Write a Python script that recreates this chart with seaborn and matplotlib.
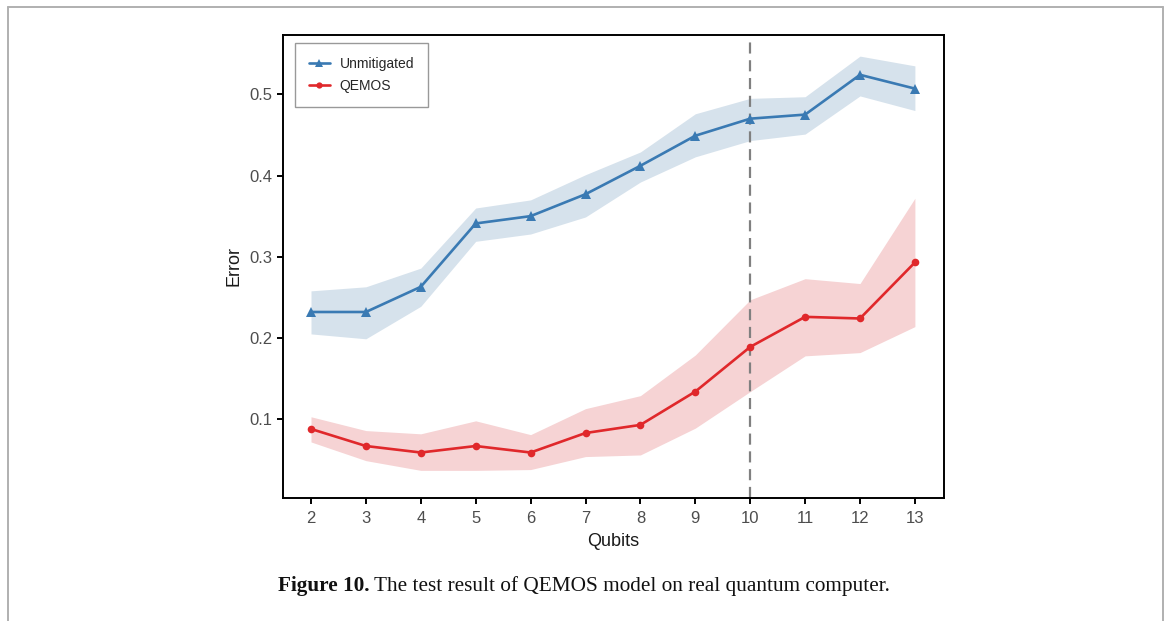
import numpy as np
import pandas as pd
import matplotlib
matplotlib.use("Agg")
import matplotlib.pyplot as plt
import seaborn as sns
from matplotlib.lines import Line2D

qubits = [2, 3, 4, 5, 6, 7, 8, 9, 10, 11, 12, 13]

unmit_mean = [0.232, 0.232, 0.263, 0.341, 0.350, 0.377, 0.412, 0.449, 0.470, 0.475, 0.524, 0.507]
unmit_upper = [0.258, 0.263, 0.286, 0.360, 0.370, 0.401, 0.429, 0.476, 0.495, 0.497, 0.547, 0.535]
unmit_lower = [0.205, 0.199, 0.239, 0.319, 0.328, 0.349, 0.392, 0.423, 0.443, 0.451, 0.498, 0.480]

qemos_mean = [0.088, 0.067, 0.059, 0.067, 0.059, 0.083, 0.093, 0.134, 0.189, 0.226, 0.224, 0.293]
qemos_upper = [0.103, 0.086, 0.082, 0.098, 0.081, 0.113, 0.129, 0.179, 0.247, 0.273, 0.267, 0.372]
qemos_lower = [0.072, 0.049, 0.037, 0.037, 0.038, 0.054, 0.056, 0.089, 0.134, 0.178, 0.182, 0.214]

series_names = ["Unmitigated", "QEMOS"]
ytick_vals = [0.1, 0.2, 0.3, 0.4, 0.5]
caption_bold = "Figure 10."
caption_rest = " The test result of QEMOS model on real quantum computer."

sns.set_theme(style="ticks")
plt.rcParams["font.family"] = ["Liberation Sans", "DejaVu Sans"]

blue = "#3a7ab3"
red = "#e0282b"

df = pd.DataFrame({
    "Qubits": qubits * 2,
    "Error": unmit_mean + qemos_mean,
    "Series": [series_names[0]] * len(qubits) + [series_names[1]] * len(qubits),
})

W, H = 1167, 621
fig = plt.figure(figsize=(W / 100, H / 100), dpi=100)
ax = fig.add_axes([283 / W, 1 - 498 / H, (944 - 283) / W, (498 - 35) / H])

ax.fill_between(qubits, unmit_lower, unmit_upper, color="#d6e2ec", lw=0, zorder=1)
ax.fill_between(qubits, qemos_lower, qemos_upper, color="#f6d3d4", lw=0, zorder=1)

ax.axvline(10, color="#808080", lw=1.6, ls=(0, (5, 3)), zorder=2)

sns.lineplot(data=df, x="Qubits", y="Error", hue="Series", style="Series",
             palette={series_names[0]: blue, series_names[1]: red},
             markers={series_names[0]: "^", series_names[1]: "o"},
             dashes=False, lw=1.9, ax=ax, zorder=3, legend=False)
for ln, ms in zip(ax.lines[1:], [7.5, 5.5]):
    ln.set_markersize(ms)
    ln.set_markeredgewidth(0)

ax.set_xlim(1.49, 13.53)
ax.set_ylim(0.003, 0.573)
ax.set_xticks(qubits)
ax.set_xticklabels([str(q) for q in qubits])
ax.set_yticks(ytick_vals)
ax.set_yticklabels([f"{v:.1f}" for v in ytick_vals])

for s in ax.spines.values():
    s.set_visible(True)
    s.set_linewidth(1.4)
    s.set_color("black")
ax.tick_params(axis="both", direction="out", length=4.5, width=1.4, color="black",
               labelsize=12, labelcolor="#4d4d4d", pad=3)
ax.tick_params(axis="x", pad=5)
ax.set_xlabel("Qubits", fontsize=13, color="#1a1a1a", labelpad=5)
ax.set_ylabel("Error", fontsize=13, color="#1a1a1a", labelpad=5)

handles = [Line2D([], [], color=blue, marker="^", ms=6, mew=0, lw=1.9),
           Line2D([], [], color=red, marker="o", ms=4.5, mew=0, lw=1.9)]
leg = ax.legend(handles, series_names, loc="upper left",
                bbox_to_anchor=(12 / 661, 1 - 8 / 463), borderaxespad=0,
                fontsize=10, frameon=True, fancybox=False, edgecolor="#808080",
                handlelength=1.5, borderpad=1.0, labelspacing=0.6, handletextpad=0.7)
leg.get_frame().set_linewidth(1.0)

# page frame
frame_kw = dict(color="#b0b0b0", lw=1.4, transform=fig.transFigure)
fig.add_artist(Line2D([7.5 / W, 7.5 / W], [0, 1 - 6.5 / H], **frame_kw))
fig.add_artist(Line2D([1162.5 / W, 1162.5 / W], [0, 1 - 6.5 / H], **frame_kw))
fig.add_artist(Line2D([7.5 / W, 1162.5 / W], [1 - 6.5 / H, 1 - 6.5 / H], **frame_kw))

# caption, centred on the page
cap_fs = 15.3
serif = ["Liberation Serif", "DejaVu Serif"]
t1 = fig.text(0, 1 - 586 / H, caption_bold, fontsize=cap_fs, fontweight="bold",
              family=serif, va="center", ha="left", color="#111111")
t2 = fig.text(0, 1 - 586 / H, caption_rest, fontsize=cap_fs,
              family=serif, va="center", ha="left", color="#111111")
fig.canvas.draw()
w1 = t1.get_window_extent().width
w2 = t2.get_window_extent().width
x0 = 584 - (w1 + w2) / 2
t1.set_x(x0 / W)
t2.set_x((x0 + w1) / W)

fig.savefig("out.png", dpi=100)
